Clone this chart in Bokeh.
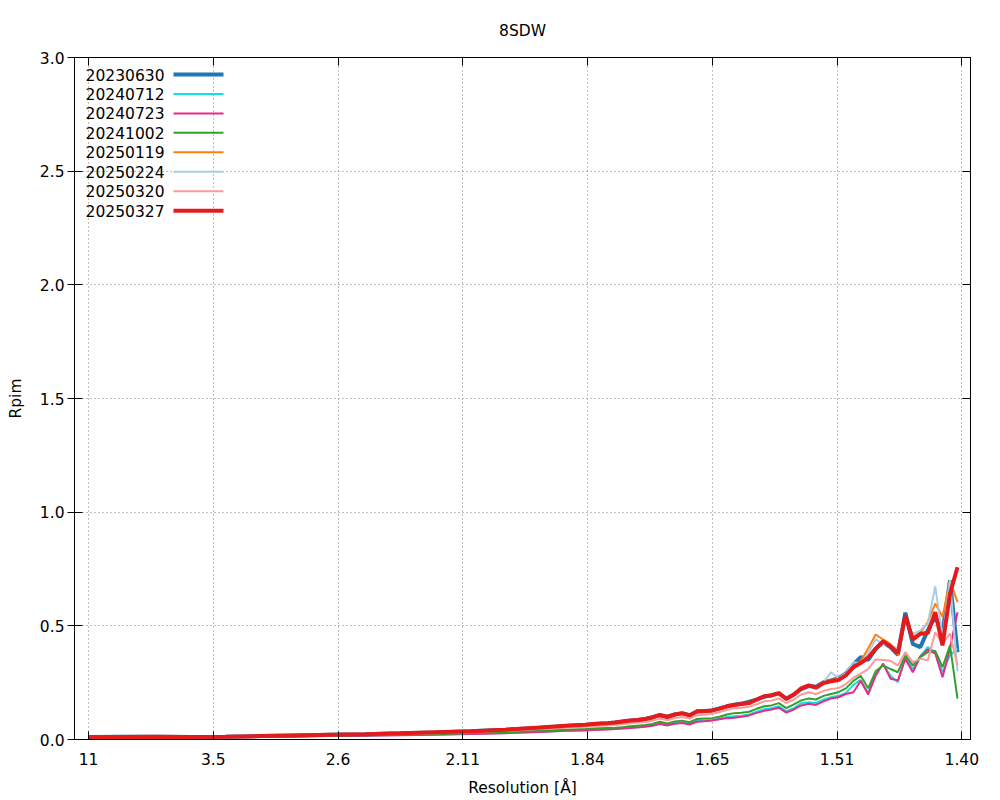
from bokeh.plotting import figure
from bokeh.models import FixedTicker, LinearAxis, Range1d, Label
from bokeh.embed import file_html
from bokeh.resources import INLINE

# ---------------- data ----------------
# resolution bins given as 1/d^2 (1/A^2)
inv_res_sq = [0.0083, 0.0267, 0.0469, 0.0670, 0.0872, 0.1073, 0.1274, 0.1476, 0.1677, 0.1879,
              0.2080, 0.2282, 0.2483, 0.2685, 0.2828,
              0.2943, 0.2986, 0.3029, 0.3071, 0.3114, 0.3157, 0.3200, 0.3243, 0.3286, 0.3328,
              0.3371, 0.3414, 0.3457, 0.3500, 0.3542, 0.3585, 0.3628, 0.3671, 0.3714, 0.3757,
              0.3799, 0.3842, 0.3885, 0.3928, 0.3971, 0.4014, 0.4056, 0.4099, 0.4142, 0.4185,
              0.4228, 0.4270, 0.4313, 0.4356, 0.4399, 0.4442, 0.4485, 0.4527, 0.4570, 0.4613,
              0.4656, 0.4699, 0.4741, 0.4784, 0.4827, 0.4870, 0.4913, 0.4956, 0.4998, 0.5041, 0.5084]

rpim_20230630 = [0.011, 0.012, 0.012, 0.011, 0.012, 0.015, 0.018, 0.021, 0.023, 0.027, 0.031, 0.036, 0.043, 0.052, 0.059,
                 0.064, 0.067, 0.070, 0.072, 0.075, 0.079, 0.083, 0.086, 0.090, 0.098,
                 0.107, 0.100, 0.110, 0.116, 0.107, 0.123, 0.125, 0.128, 0.137, 0.146,
                 0.153, 0.158, 0.166, 0.175, 0.188, 0.195, 0.203, 0.180, 0.197, 0.222,
                 0.235, 0.232, 0.252, 0.260, 0.270, 0.290, 0.330, 0.362, 0.350, 0.398,
                 0.428, 0.405, 0.372, 0.558, 0.420, 0.406, 0.480, 0.540, 0.470, 0.700, 0.384]
rpim_20240712 = [0.009, 0.010, 0.010, 0.010, 0.010, 0.012, 0.014, 0.016, 0.018, 0.020, 0.022, 0.025, 0.029, 0.034, 0.039,
                 0.042, 0.044, 0.045, 0.047, 0.048, 0.050, 0.053, 0.056, 0.058, 0.062,
                 0.070, 0.064, 0.072, 0.076, 0.070, 0.082, 0.084, 0.086, 0.091, 0.099,
                 0.102, 0.105, 0.110, 0.122, 0.133, 0.138, 0.146, 0.125, 0.138, 0.160,
                 0.164, 0.160, 0.176, 0.186, 0.192, 0.205, 0.240, 0.262, 0.205, 0.290,
                 0.330, 0.280, 0.252, 0.362, 0.310, 0.365, 0.406, 0.385, 0.296, 0.370, 0.400]
rpim_20240723 = [0.008, 0.009, 0.009, 0.009, 0.010, 0.011, 0.013, 0.015, 0.017, 0.019, 0.021, 0.024, 0.028, 0.033, 0.038,
                 0.040, 0.042, 0.043, 0.044, 0.046, 0.048, 0.051, 0.053, 0.056, 0.060,
                 0.068, 0.062, 0.069, 0.073, 0.066, 0.078, 0.080, 0.084, 0.089, 0.094,
                 0.096, 0.100, 0.106, 0.117, 0.126, 0.132, 0.140, 0.118, 0.132, 0.150,
                 0.157, 0.152, 0.168, 0.180, 0.186, 0.200, 0.208, 0.258, 0.198, 0.280,
                 0.334, 0.267, 0.260, 0.355, 0.296, 0.365, 0.396, 0.378, 0.274, 0.400, 0.560]
rpim_20241002 = [0.009, 0.010, 0.010, 0.010, 0.011, 0.013, 0.015, 0.017, 0.019, 0.021, 0.024, 0.027, 0.032, 0.038, 0.043,
                 0.046, 0.048, 0.050, 0.051, 0.052, 0.054, 0.058, 0.061, 0.064, 0.068,
                 0.078, 0.070, 0.079, 0.083, 0.076, 0.090, 0.092, 0.094, 0.100, 0.110,
                 0.116, 0.118, 0.122, 0.135, 0.146, 0.150, 0.160, 0.138, 0.155, 0.172,
                 0.180, 0.176, 0.192, 0.200, 0.208, 0.225, 0.258, 0.280, 0.225, 0.300,
                 0.326, 0.310, 0.296, 0.370, 0.326, 0.362, 0.384, 0.390, 0.318, 0.414, 0.180]
rpim_20250119 = [0.010, 0.011, 0.012, 0.011, 0.012, 0.015, 0.018, 0.021, 0.023, 0.027, 0.031, 0.036, 0.042, 0.052, 0.059,
                 0.064, 0.067, 0.069, 0.072, 0.075, 0.078, 0.083, 0.086, 0.090, 0.096,
                 0.106, 0.099, 0.109, 0.114, 0.106, 0.122, 0.123, 0.127, 0.135, 0.145,
                 0.151, 0.155, 0.160, 0.174, 0.188, 0.192, 0.202, 0.180, 0.200, 0.224,
                 0.240, 0.230, 0.255, 0.262, 0.268, 0.290, 0.322, 0.345, 0.400, 0.462,
                 0.440, 0.420, 0.372, 0.530, 0.450, 0.470, 0.516, 0.598, 0.540, 0.700, 0.604]
rpim_20250224 = [0.011, 0.012, 0.012, 0.011, 0.012, 0.015, 0.018, 0.021, 0.023, 0.027, 0.031, 0.036, 0.042, 0.051, 0.058,
                 0.063, 0.066, 0.069, 0.071, 0.074, 0.078, 0.082, 0.085, 0.089, 0.095,
                 0.105, 0.098, 0.108, 0.113, 0.105, 0.121, 0.122, 0.126, 0.134, 0.144,
                 0.150, 0.154, 0.158, 0.172, 0.186, 0.190, 0.200, 0.178, 0.196, 0.222,
                 0.236, 0.226, 0.250, 0.296, 0.270, 0.292, 0.340, 0.335, 0.380, 0.440,
                 0.420, 0.415, 0.400, 0.520, 0.465, 0.480, 0.510, 0.673, 0.450, 0.700, 0.300]
rpim_20250320 = [0.010, 0.011, 0.011, 0.010, 0.011, 0.014, 0.016, 0.019, 0.021, 0.024, 0.028, 0.032, 0.038, 0.046, 0.052,
                 0.056, 0.058, 0.060, 0.062, 0.064, 0.067, 0.071, 0.074, 0.077, 0.082,
                 0.092, 0.085, 0.094, 0.099, 0.092, 0.107, 0.109, 0.113, 0.121, 0.130,
                 0.138, 0.140, 0.144, 0.155, 0.168, 0.171, 0.180, 0.160, 0.176, 0.198,
                 0.208, 0.200, 0.214, 0.222, 0.226, 0.244, 0.272, 0.290, 0.310, 0.352,
                 0.350, 0.346, 0.326, 0.384, 0.340, 0.355, 0.348, 0.472, 0.420, 0.466, 0.326]
rpim_20250327 = [0.010, 0.011, 0.012, 0.011, 0.012, 0.015, 0.018, 0.021, 0.023, 0.027, 0.032, 0.036, 0.043, 0.053, 0.060,
                 0.065, 0.068, 0.070, 0.072, 0.075, 0.079, 0.084, 0.086, 0.090, 0.097,
                 0.108, 0.099, 0.110, 0.115, 0.106, 0.124, 0.124, 0.128, 0.136, 0.146,
                 0.152, 0.156, 0.160, 0.176, 0.190, 0.194, 0.204, 0.178, 0.198, 0.225,
                 0.238, 0.228, 0.248, 0.256, 0.262, 0.282, 0.318, 0.336, 0.360, 0.400,
                 0.432, 0.410, 0.380, 0.546, 0.440, 0.465, 0.468, 0.560, 0.414, 0.641, 0.758]

series_names = ["20230630", "20240712", "20240723", "20241002",
                "20250119", "20250224", "20250320", "20250327"]
series_values = [rpim_20230630, rpim_20240712, rpim_20240723, rpim_20241002,
                 rpim_20250119, rpim_20250224, rpim_20250320, rpim_20250327]

x_tick_pos = [0.0083, 0.0801, 0.1519, 0.2237, 0.2955, 0.3673, 0.4391, 0.5109]
x_tick_labels = ["11", "3.5", "2.6", "2.11", "1.84", "1.65", "1.51", "1.40"]
y_tick_pos = [0.0, 0.5, 1.0, 1.5, 2.0, 2.5, 3.0]
y_tick_labels = ["0.0", "0.5", "1.0", "1.5", "2.0", "2.5", "3.0"]
title_text = "8SDW"

# ---------------- style ----------------
colors = ["#1f77b4", "#10e0e0", "#e7298a", "#33a02c", "#ff7f0e", "#a6cee3", "#fb9a99", "#e41a1c"]
widths = [4, 2, 2, 2, 2, 2, 2, 4]
FONT = "DejaVu Sans"
FS = "15.5px"

X0, X1 = 0.0002, 0.5159
Y0, Y1 = 0.0, 3.0

p = figure(width=1000, height=800, output_backend="svg", toolbar_location=None, tools="",
           x_range=Range1d(X0, X1), y_range=Range1d(Y0, Y1),
           min_border_left=74, min_border_right=30, min_border_top=57, min_border_bottom=61)

p.title.text = title_text
p.title.align = "center"
p.title.text_font = FONT
p.title.text_font_size = FS
p.title.text_font_style = "normal"
p.title.text_color = "black"
p.title.standoff = 36

p.background_fill_color = "white"
p.border_fill_color = "white"
p.outline_line_color = "black"
p.outline_line_width = 1

xt = FixedTicker(ticks=x_tick_pos)
yt = FixedTicker(ticks=y_tick_pos)

for ax in p.xaxis:
    ax.ticker = xt
    ax.major_label_overrides = {t: l for t, l in zip(x_tick_pos, x_tick_labels)}
    ax.axis_label = "Resolution [Å]"
    ax.major_tick_in = 8
    ax.major_tick_out = 0
    ax.minor_tick_line_color = None
    ax.major_label_standoff = 13
    ax.axis_label_standoff = 11
for ax in p.yaxis:
    ax.ticker = yt
    ax.major_label_overrides = {t: l for t, l in zip(y_tick_pos, y_tick_labels)}
    ax.axis_label = "Rpim"
    ax.major_tick_in = 8
    ax.major_tick_out = 7
    ax.minor_tick_line_color = None
    ax.major_label_standoff = 3
    ax.axis_label_standoff = 12

for ax in list(p.xaxis) + list(p.yaxis):
    ax.axis_line_color = "black"
    ax.major_tick_line_color = "black"
    ax.major_label_text_font = FONT
    ax.major_label_text_font_size = FS
    ax.major_label_text_color = "black"
    ax.axis_label_text_font = FONT
    ax.axis_label_text_font_size = FS
    ax.axis_label_text_font_style = "normal"
    ax.axis_label_text_color = "black"

# mirrored ticks on top and right
top_ax = LinearAxis(ticker=xt, major_label_overrides={t: "" for t in x_tick_pos},
                    major_tick_in=8, major_tick_out=0, minor_tick_line_color=None,
                    axis_line_color="black", major_label_standoff=0)
right_ax = LinearAxis(ticker=yt, major_label_overrides={t: "" for t in y_tick_pos},
                      major_tick_in=8, major_tick_out=0, minor_tick_line_color=None,
                      axis_line_color="black", major_label_standoff=0)
p.add_layout(top_ax, "above")
p.add_layout(right_ax, "right")

for g in list(p.xgrid) + list(p.ygrid):
    g.grid_line_color = "#808080"
    g.grid_line_dash = "1 3"
    g.grid_line_width = 1

# ---------------- lines ----------------
for name, vals, c, w in zip(series_names, series_values, colors, widths):
    assert len(vals) == len(inv_res_sq)
    p.line(inv_res_sq, vals, line_color=c, line_width=w)

# ---------------- legend (gnuplot style: label, then sample) ----------------
FR_L, FR_T, FR_W, FR_H = 74.0, 57.0, 896.0, 682.0   # frame in page pixels


def px2x(px):
    return X0 + (px - FR_L) / FR_W * (X1 - X0)


def py2y(py):
    return Y1 - (py - FR_T) / FR_H * (Y1 - Y0)


for i, (name, c, w) in enumerate(zip(series_names, colors, widths)):
    ypix = 74.0 + 19.45 * i
    yy = py2y(ypix)
    p.add_layout(Label(x=px2x(164), y=yy, text=name, text_align="right", text_baseline="middle",
                       text_font=FONT, text_font_size=FS, text_color="black"))
    p.line([px2x(173), px2x(223)], [yy, yy], line_color=c, line_width=w)

open("out.html", "w").write(file_html(p, INLINE))
